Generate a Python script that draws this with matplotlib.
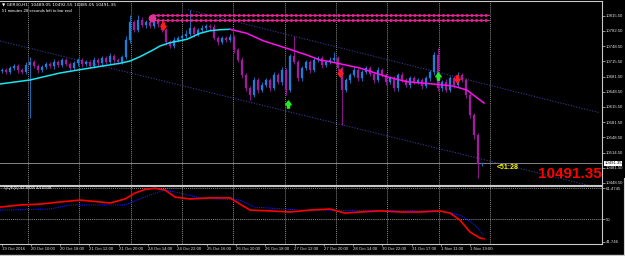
import numpy as np
import matplotlib
matplotlib.use("Agg")
import matplotlib.pyplot as plt
from matplotlib.path import Path
from matplotlib.lines import Line2D

W, H = 625, 256

# ---------------- data ----------------
symbol_header = "\u25bc GER30,H1  10489.05 10492.55 10485.05 10491.35"
timer_header = "51 minutes 28 seconds left to bar end"
first_open = 10694
closes = [10696, 10692, 10700, 10705, 10696, 10692, 10707, 10714, 10705, 10696,
          10703, 10709, 10705, 10714, 10707, 10718, 10709, 10700, 10711, 10718,
          10709, 10714, 10705, 10718, 10711, 10722, 10714, 10727, 10718, 10714,
          10725, 10762, 10802, 10784, 10806, 10795, 10802, 10793, 10806, 10797,
          10784, 10758, 10749, 10762, 10766, 10771, 10775, 10788, 10775, 10784,
          10788, 10793, 10791, 10766, 10758, 10766, 10762, 10769, 10740, 10718,
          10685, 10656, 10641, 10674, 10652, 10663, 10674, 10656, 10685, 10670,
          10696, 10652, 10727, 10714, 10678, 10700, 10714, 10696, 10718, 10722,
          10707, 10714, 10718, 10722, 10700, 10652, 10674, 10685, 10696, 10678,
          10692, 10700, 10687, 10674, 10696, 10685, 10670, 10678, 10656, 10685,
          10674, 10663, 10678, 10670, 10674, 10661, 10678, 10692, 10729, 10656,
          10670, 10652, 10678, 10663, 10685, 10674, 10641, 10597, 10553, 10489.05,
          10491.35]
upper_wick = [5, 5, 4, 5, 4, 5, 6, 10, 5, 4,
              5, 4, 5, 6, 4, 5, 4, 5, 6, 4,
              5, 4, 5, 6, 4, 5, 4, 6, 5, 4,
              5, 8, 16, 5, 11, 6, 5, 4, 6, 5,
              4, 5, 4, 6, 5, 4, 8, 40, 5, 4,
              6, 5, 4, 6, 5, 4, 5, 6, 5, 4,
              6, 5, 4, 6, 5, 7, 5, 4, 6, 5,
              6, 5, 4, 44, 5, 6, 4, 5, 6, 5,
              4, 5, 6, 13, 5, 6, 4, 5, 6, 5,
              4, 6, 5, 4, 6, 5, 4, 6, 5, 4,
              6, 5, 4, 6, 5, 4, 6, 5, 6, 15,
              5, 6, 4, 5, 6, 5, 4, 5, 4, 5,
              1.2]
lower_wick = [5, 4, 5, 4, 6, 5, 4, 116, 5, 6,
              4, 5, 4, 6, 5, 4, 5, 6, 4, 5,
              6, 4, 5, 4, 6, 5, 4, 5, 6, 4,
              5, 4, 6, 5, 4, 5, 6, 4, 5, 6,
              5, 6, 5, 4, 5, 6, 4, 5, 6, 4,
              5, 4, 6, 5, 6, 4, 5, 4, 6, 5,
              6, 7, 11, 5, 6, 4, 5, 6, 4, 5,
              6, 11, 5, 4, 6, 5, 4, 6, 5, 4,
              6, 5, 4, 5, 6, 76, 5, 6, 4, 5,
              6, 4, 5, 6, 4, 5, 6, 4, 5, 6,
              4, 5, 6, 4, 5, 6, 4, 5, 6, 5,
              6, 5, 4, 6, 5, 4, 6, 7, 8, 30,
              4]

# moving average (rising part cyan, falling part magenta)
ma_up_bars = [-0.5, 7, 14.5, 22, 29.5, 32, 34.5, 37.75, 39.5, 42, 46.2, 49.5, 52, 54.5, 57]
ma_up_vals = [10665.4, 10674.2, 10689.6, 10700.5, 10710.9, 10715.9, 10725.4, 10740.1,
              10748.9, 10756.2, 10763.6, 10776.8, 10782.5, 10784.7, 10785.6]
ma_dn_bars = [57, 61.2, 65.25, 71.2, 76.2, 79.5, 82, 89.5, 96.2, 101.2, 107.75, 112.75,
              116.2, 119.5, 120.5]
ma_dn_vals = [10785.6, 10776.8, 10760.5, 10743.8, 10729.1, 10718.1, 10714.4, 10700.5,
              10681.4, 10670.4, 10665.4, 10661.0, 10652.2, 10630.2, 10623.6]

# channel trend lines (bar, price)
chan_upper_bars = [46.5, 149.5]
chan_upper_vals = [10828.7, 10602.0]
chan_lower_bars = [-0.5, 149.75]
chan_lower_vals = [10760.0, 10436.0]

# horizontal level objects
level_prices = [10816, 10805]
level_start_bar = 37.5
level_end_bar = 121.75
level_dot_price = 10810

# signal arrows
sell_bars = [40.25, 84.5, 113.75]
sell_prices = [10793, 10690, 10677]
buy_bars = [71.5, 109]
buy_prices = [10622, 10684]

price_ticks = [10815.5, 10782.5, 10748.5, 10715.5, 10681.5, 10648.5, 10615.5,
               10581.5, 10548.5, 10514.5, 10481.5, 10448.5]
bid = 10491.35
timer_text = "<51:28"

# QQE indicator
qqe_red_bars = [-0.5, 4.5, 9.5, 14.5, 19.5, 24.5, 27, 30.75, 33.25, 35.75, 38.25, 40.75,
                43.25, 47, 52, 57, 59.5, 62, 67, 72, 77, 82, 85.75, 89.5, 94.5, 99.5,
                104.5, 109.5, 112, 114.5, 117, 119.5, 120.5]
qqe_red_vals = [54.5, 55.3, 55.6, 56.4, 57.1, 56.4, 56.0, 57.5, 59.7, 61.0, 61.44, 60.8,
                58.2, 57.5, 57.9, 57.9, 55.6, 53.4, 53.1, 52.7, 53.4, 53.8, 52.3, 52.7,
                53.1, 52.7, 52.7, 53.1, 52.3, 49.7, 45.3, 43.1, 42.8345]
qqe_blue_bars = [-0.5, 12, 17, 30.75, 33.25, 37, 40.75, 44.5, 49.5, 59.5, 63.25, 74.5,
                 109.5, 114.5, 118.25, 120.5]
qqe_blue_vals = [53.4, 53.8, 55.3, 55.3, 56.8, 59.0, 60.8, 59.7, 57.9, 57.1, 54.5, 53.4,
                 53.1, 51.6, 47.9, 44.0938]
qqe_label = "QQE(5) 42.8345 44.0938"
qqe_ticks = [61.4745, 50, 41.746]
qqe_tick_labels = ["61.4745", "50", "41.746"]

time_labels = ["19 Oct 2016", "20 Oct 10:00", "20 Oct 18:00", "21 Oct 12:00",
               "21 Oct 20:00", "24 Oct 14:00", "24 Oct 22:00", "25 Oct 16:00",
               "26 Oct 10:00", "26 Oct 18:00", "27 Oct 12:00", "27 Oct 20:00",
               "28 Oct 14:00", "30 Oct 22:00", "31 Oct 17:00", "1 Nov 11:00",
               "1 Nov 19:00"]

# ---------------- styling ----------------
BG = "black"
FG = "#C8C8C8"
UP = "#1F7FD6"
DN = "#A21CA2"
SMALL = 3.1
FONT = ["Liberation Sans", "DejaVu Sans"]
plt.rcParams['font.family'] = FONT

fig = plt.figure(figsize=(W / 100, H / 100), dpi=100, facecolor=BG)


def px_axes(left, top, right, bottom):
    return fig.add_axes([left / W, 1 - bottom / H, (right - left) / W, (bottom - top) / H])


ax = px_axes(0, 1, 601.5, 184.5)
ax2 = px_axes(0, 186, 601.5, 244)
XLIM = (-0.5, 149.875)

for a in (ax, ax2):
    a.set_facecolor(BG)
    a.set_xlim(*XLIM)
    for s in ("left",):
        a.spines[s].set_visible(False)
    for s in ("top", "right", "bottom"):
        a.spines[s].set_color(FG)
        a.spines[s].set_linewidth(0.8)
    a.yaxis.tick_right()
    a.tick_params(axis="y", colors=FG, labelcolor="#E0E0E0", labelsize=SMALL,
                  length=2, width=0.5, pad=1)

# grid (dotted verticals, day separators)
grid_pos = 6.5 + 12.83 * np.arange(10)
for a in (ax, ax2):
    for g in grid_pos:
        a.axvline(g, color="#BBBBBB", lw=0.5, ls=(0, (1.5, 1.5)), zorder=0)

# ----- main pane -----
closes_a = np.array(closes, dtype=float)
opens_a = np.concatenate([[first_open], closes_a[:-1]])
idx = np.arange(len(closes_a))
hi = np.maximum(opens_a, closes_a) + np.array(upper_wick)
lo = np.minimum(opens_a, closes_a) - np.array(lower_wick)
cols = [UP if c >= o else DN for o, c in zip(opens_a, closes_a)]
ax.vlines(idx, lo, hi, colors=cols, lw=0.6, zorder=3)
body_h = np.maximum(np.abs(closes_a - opens_a), 1.2)
ax.bar(idx, body_h, bottom=np.minimum(opens_a, closes_a), width=0.62, color=cols,
       edgecolor=cols, linewidth=0.2, zorder=4)

ax.set_ylim(10444.5, 10847.8)
ax.set_yticks(price_ticks)
ax.set_yticklabels([f"{v:.2f}" for v in price_ticks])
ax.set_xticks([])

# channel lines
ax.plot(chan_upper_bars, chan_upper_vals, color="#3E3EA0", lw=0.7, ls=(0, (1.2, 1.6)), zorder=2)
ax.plot(chan_lower_bars, chan_lower_vals, color="#3E3EA0", lw=0.7, ls=(0, (1.2, 1.6)), zorder=2)

# MA
ax.plot(ma_up_bars, ma_up_vals, color="#19E6F0", lw=1.1, zorder=5)
ax.plot(ma_dn_bars, ma_dn_vals, color="#FF10F0", lw=1.1, zorder=5)

# levels
for p in level_prices:
    ax.plot([level_start_bar, level_end_bar], [p, p], color="#F0209A", lw=0.7, zorder=5)
    ax.plot([level_start_bar, level_end_bar], [p, p], color="#F0209A", lw=1.9,
            ls=(0, (0.9, 0.9)), zorder=5)
ax.plot([level_start_bar], [level_dot_price], "o", color="#E0309A", ms=4.6, zorder=6)

# bid line
ax.axhline(bid, color="#9A9A9A", lw=0.6, zorder=1)

# arrows
down_verts = [(-0.3, 1), (0.3, 1), (0.3, 0.1), (0.75, 0.1), (0, -1), (-0.75, 0.1),
              (-0.3, 0.1), (-0.3, 1)]
down_path = Path(down_verts, [Path.MOVETO] + [Path.LINETO] * 6 + [Path.CLOSEPOLY])
up_path = Path([(x, -y) for x, y in down_verts], [Path.MOVETO] + [Path.LINETO] * 6 + [Path.CLOSEPOLY])
ax.plot(sell_bars, sell_prices, ls="none", marker=down_path, ms=5.2, color="#FF1A1A", zorder=7)
ax.plot(buy_bars, buy_prices, ls="none", marker=up_path, ms=5.2, color="#22EE22", zorder=7)

# texts
fig.text(2 / W, 1 - 4.8 / H, symbol_header, color="white", fontsize=SMALL, va="center", ha="left",
         family=["DejaVu Sans"])
fig.text(2 / W, 1 - 11 / H, timer_header, color="white", fontsize=SMALL, va="center", ha="left")
fig.text(497 / W, 1 - 167.5 / H, timer_text, color="#FFFF00", fontsize=5, fontweight="bold",
         va="center", ha="left")
fig.text(569.5 / W, 1 - 174 / H, f"{bid:.2f}", color="#FF0000", fontsize=11, fontweight="bold",
         va="center", ha="center", family=["Liberation Sans Narrow", "Liberation Sans"])
fig.text(613 / W, 1 - 163.2 / H, f"{bid:.2f}", color="black", fontsize=SMALL, va="center",
         ha="center", bbox=dict(boxstyle="square,pad=0.15", fc="white", ec="white", lw=0))

# ----- indicator pane -----
ax2.set_ylim(40.89, 62.29)
for lvl in [61.4745, 50]:
    ax2.axhline(lvl, color="#BBBBBB", lw=0.5, ls=(0, (1.5, 1.5)), zorder=0)
ax2.plot(qqe_blue_bars, qqe_blue_vals, color="#1A1AFF", lw=0.8, ls=(0, (1, 1)), zorder=3)
ax2.plot(qqe_red_bars, qqe_red_vals, color="#FF0000", lw=1.2, zorder=4)
ax2.set_yticks(qqe_ticks)
ax2.set_yticklabels(qqe_tick_labels)
ax2.text(0.5, 61.6, qqe_label, color="white", fontsize=SMALL, va="center", ha="left")

tick_pos = -0.125 + 7.325 * np.arange(len(time_labels))
ax2.set_xticks(tick_pos)
ax2.set_xticklabels(time_labels)
ax2.tick_params(axis="x", colors=FG, labelcolor="#E0E0E0", labelsize=SMALL, length=1.5,
                width=0.5, pad=0.8)
for lab in ax2.get_xticklabels():
    lab.set_ha("left")

# window border bits
fig.add_artist(Line2D([623.5 / W, 623.5 / W], [0, 1 - 178 / H], color="#D0D0D0", lw=0.8))
fig.add_artist(Line2D([0, 1], [0.8 / H, 0.8 / H], color="#C8C8C8", lw=1.0))

fig.savefig("out.png", dpi=100, facecolor=BG)
